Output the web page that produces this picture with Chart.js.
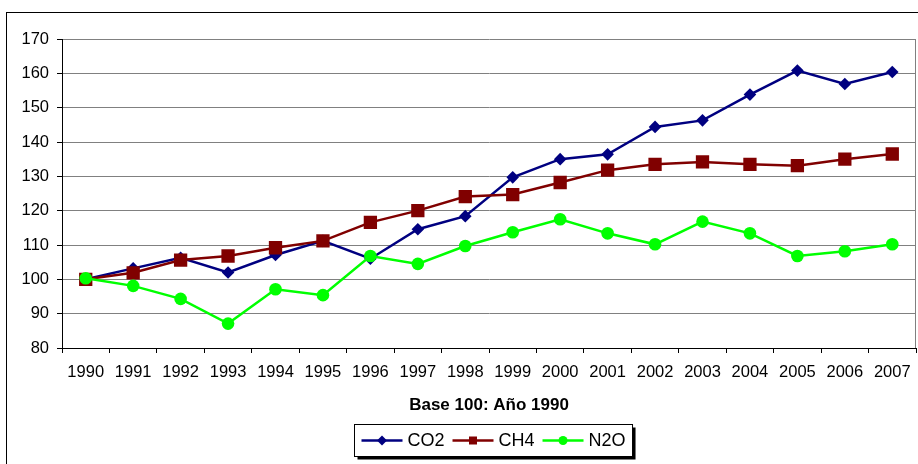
<!DOCTYPE html>
<html>
<head>
<meta charset="utf-8">
<script src="https://cdn.jsdelivr.net/npm/chart.js@4.4.0/dist/chart.umd.min.js"></script>
<style>
  html, body { margin: 0; padding: 0; background: #fff; }
  #wrap { width: 918px; height: 464px; }
</style>
</head>
<body>
<div id="wrap"><canvas id="myChart" width="918" height="464"></canvas></div>
<script>
var years = ['1990','1991','1992','1993','1994','1995','1996','1997','1998','1999',
             '2000','2001','2002','2003','2004','2005','2006','2007'];
var co2 = [100, 103.2, 106.3, 102.0, 107.1, 111.2, 106.0, 114.6, 118.4, 129.7,
           135.0, 136.4, 144.4, 146.3, 153.8, 160.8, 156.9, 160.4];
var ch4 = [100, 101.9, 105.6, 106.8, 109.2, 111.2, 116.6, 120.0, 124.1, 124.7,
           128.2, 131.8, 133.5, 134.2, 133.5, 133.1, 135.0, 136.5];
var n2o = [100.3, 98.1, 94.3, 87.1, 97.1, 95.4, 106.8, 104.5, 109.7, 113.7,
           117.5, 113.4, 110.2, 116.8, 113.4, 106.8, 108.2, 110.2];
var seriesNames = ['CO2', 'CH4', 'N2O'];
var axisTitle = 'Base 100: Año 1990';

var FONT = "'Liberation Sans', Arial, sans-serif";

// frame, plot border and the boxed legend
var decor = {
    id: 'decor',
    beforeDraw: function(chart){
        var ctx = chart.ctx;
        ctx.save();
        ctx.fillStyle = '#fff';
        ctx.fillRect(0, 0, chart.width, chart.height);
        ctx.strokeStyle = '#000';
        ctx.lineWidth = 1;
        ctx.strokeRect(6.5, 12.5, chart.width + 10, chart.height + 10);
        ctx.restore();
    },
    beforeDatasetsDraw: function(chart){
        var a = chart.chartArea, ctx = chart.ctx;
        ctx.save();
        ctx.strokeStyle = '#808080';
        ctx.lineWidth = 1;
        ctx.beginPath();
        ctx.moveTo(a.right - 0.5, a.top);
        ctx.lineTo(a.right - 0.5, a.bottom);
        ctx.stroke();
        ctx.restore();
    },
    afterDraw: function(chart){
        var ctx = chart.ctx;
        var sets = chart.data.datasets;
        ctx.save();
        ctx.font = '18px ' + FONT;
        var lineLen = 41, gap = 5, itemGap = 8, padX = 7;
        var total = padX * 2;
        sets.forEach(function(ds, i){
            total += lineLen + gap + ctx.measureText(ds.label).width;
            if (i < sets.length - 1) total += itemGap;
        });
        var bx = Math.round(493 - total / 2) + 0.5, by = 424.5, bh = 32;
        ctx.fillStyle = '#000';
        ctx.fillRect(bx + 3, by + 3, total, bh);
        ctx.fillStyle = '#fff';
        ctx.fillRect(bx, by, total, bh);
        ctx.strokeStyle = '#000';
        ctx.lineWidth = 1;
        ctx.strokeRect(bx, by, total, bh);

        var x = bx + padX, cy = by + bh / 2;
        sets.forEach(function(ds){
            var mx = x + lineLen / 2;
            ctx.strokeStyle = ds.borderColor;
            ctx.lineWidth = 2.5;
            ctx.beginPath();
            ctx.moveTo(x, cy);
            ctx.lineTo(x + lineLen, cy);
            ctx.stroke();
            ctx.fillStyle = ds.borderColor;
            ctx.beginPath();
            if (ds.pointStyle === 'circle') ctx.arc(mx, cy, 4.5, 0, Math.PI * 2);
            else if (ds.pointStyle === 'rect') ctx.rect(mx - 4, cy - 4, 8, 8);
            else { ctx.moveTo(mx, cy - 5); ctx.lineTo(mx + 5, cy);
                   ctx.lineTo(mx, cy + 5); ctx.lineTo(mx - 5, cy); ctx.closePath(); }
            ctx.fill();
            x += lineLen + gap;
            ctx.fillStyle = '#000';
            ctx.textBaseline = 'middle';
            ctx.textAlign = 'left';
            ctx.fillText(ds.label, x, cy + 1);
            x += ctx.measureText(ds.label).width + itemGap;
        });
        ctx.restore();
    }
};

function line(label, data, color, style, radius, order){
    return {
        label: label,
        data: data,
        borderColor: color,
        backgroundColor: color,
        borderWidth: 2.5,
        pointStyle: style,
        pointRadius: radius,
        pointBorderWidth: 0,
        pointBackgroundColor: color,
        tension: 0,
        order: order
    };
}

var ctx = document.getElementById('myChart').getContext('2d');
var chart = new Chart(ctx, {
    type: 'line',
    data: {
        labels: years,
        datasets: [
            line(seriesNames[0], co2, '#000080', 'rectRot', 6.3, 3),
            line(seriesNames[1], ch4, '#800000', 'rect', 9.4, 2),
            line(seriesNames[2], n2o, '#00ff00', 'circle', 6.3, 1)
        ]
    },
    options: {
        responsive: false,
        animation: false,
        layout: { autoPadding: false, padding: { left: 0, top: 39, right: 2, bottom: 0 } },
        plugins: {
            legend: { display: false },
            tooltip: { enabled: false }
        },
        scales: {
            x: {
                offset: true,
                grid: { offset: true, drawOnChartArea: false, tickColor: '#000', tickLength: 5 },
                border: { color: '#000', width: 1 },
                ticks: { color: '#000', font: { family: FONT, size: 16.5 }, padding: 10, maxRotation: 0, autoSkip: false },
                title: {
                    display: true, text: axisTitle, color: '#000',
                    font: { family: FONT, size: 17, weight: 'bold' },
                    padding: { top: 0, bottom: 48 }
                },
                afterFit: function(s){ s.height = 116; s.paddingLeft = 0; s.paddingRight = 0; }
            },
            y: {
                min: 80, max: 170,
                grid: { color: '#808080', tickColor: '#000', tickLength: 5 },
                border: { color: '#000', width: 1 },
                ticks: { stepSize: 10, color: '#000', font: { family: FONT, size: 16.5 }, padding: 8 },
                afterFit: function(s){ s.width = 62; }
            }
        }
    },
    plugins: [decor]
});
</script>
</body>
</html>
